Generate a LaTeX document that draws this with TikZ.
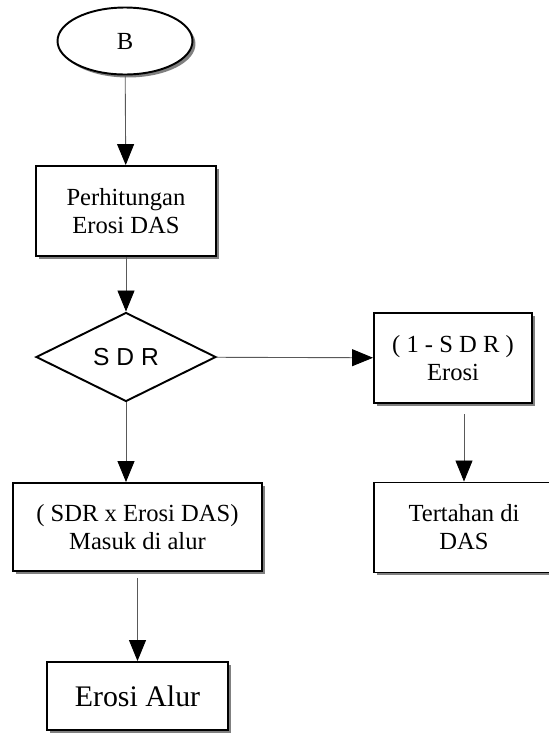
\documentclass[tikz,border=0pt]{standalone}
\usepackage{fontspec}
\setmainfont{Liberation Serif}
\setsansfont{Liberation Sans}
\usetikzlibrary{shapes,arrows.meta,shadows}

\tikzset{
  shade/.style={drop shadow={shadow xshift=0.06cm, shadow yshift=-0.06cm, fill=black!50, opacity=1}},
  box/.style={draw, line width=1.1pt, fill=white, minimum width=3.6cm, minimum height=1.8cm,
    align=center, font=\fontsize{14}{16}\selectfont, shade},
  link/.style={draw=black!65, line width=0.5pt, -{Triangle[length=0.42cm, width=0.34cm, color=black]}}
}

\begin{document}
\begin{tikzpicture}[x=0.02cm, y=-0.02cm]
  \useasboundingbox (0,0) rectangle (548,734);
  % start
  \node [ellipse, draw, line width=1.1pt, fill=white, minimum width=2.7cm, minimum height=1.34cm,
    font=\fontsize{14}{16}\selectfont, shade] (b) at (125,41) {B};
  \node [box] (hitung) at (126,211) {Perhitungan\\Erosi DAS};
  % decision
  \node [diamond, draw, line width=1.1pt, fill=white, inner sep=0pt, minimum width=3.6cm,
    minimum height=1.78cm, font=\sffamily\fontsize{14}{16}\selectfont] (sdr) at (126,357) {S D R};
  \node [box, minimum width=3.16cm] (sisa) at (453,358) {( 1 - S D R )\\Erosi};
  \node [box] (tahan) at (464,527.5) {Tertahan di\\DAS};
  \node [box, minimum width=4.98cm, minimum height=1.76cm] (masuk) at (137.5,527) {( SDR x Erosi DAS)\\Masuk di alur};
  \node [box, minimum width=3.62cm, minimum height=1.36cm, font=\fontsize{17}{20}\selectfont] (alur) at (137.5,696) {Erosi Alur};
  \coordinate (c1) at (464,414);

  \draw [link] (b) -- (hitung);
  \draw [link] (hitung) -- (sdr);
  \draw [link] (sdr) -- (sisa);
  \draw [link] (c1) -- (tahan.north);
  \draw [link] (sdr.south) -- (sdr.south |- masuk.north);
  \draw [link, shorten <=0.12cm] (masuk) -- (alur);
\end{tikzpicture}
\end{document}
